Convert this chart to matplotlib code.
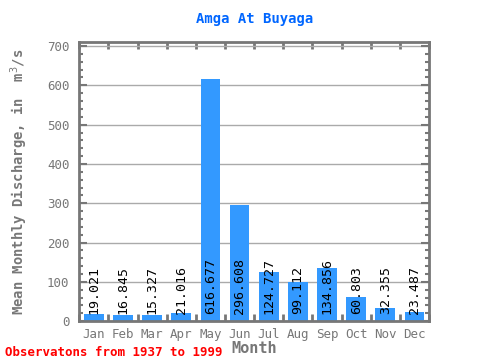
import numpy as np
import matplotlib.pyplot as plt
from matplotlib.ticker import MultipleLocator, FixedLocator

months = ['Jan', 'Feb', 'Mar', 'Apr', 'May', 'Jun', 'Jul', 'Aug', 'Sep', 'Oct', 'Nov', 'Dec']
flow = [19.021, 16.845, 15.327, 21.016, 616.677, 296.608, 124.727, 99.112, 134.856, 60.803, 32.355, 23.487]
labels = ['19.021', '16.845', '15.327', '21.016', '616.677', '296.608', '124.727', '99.112',
          '134.856', '60.803', '32.355', '23.487']

plt.rcParams['font.family'] = ['DejaVu Sans Mono']
grey = '#777777'

fig = plt.figure(figsize=(4.8, 3.6), dpi=100)
ax = fig.add_axes([0.165, 0.108, 0.729, 0.775])

x = np.arange(len(months))
ax.bar(x, flow, width=0.68, color='#3399ff', zorder=2)
for xi, v, lab in zip(x, flow, labels):
    ax.text(xi, 18, lab, rotation=90, ha='center', va='bottom', fontsize=9.5, color='black', zorder=3)

ax.set_xlim(-0.5, 11.5)
ax.set_ylim(0, 710)
ax.yaxis.set_major_locator(MultipleLocator(100))
ax.yaxis.set_minor_locator(MultipleLocator(20))
ax.grid(axis='y', color='#aaaaaa', linewidth=1, zorder=1)
ax.set_xticks(x)
ax.set_xticklabels(months)
ax.xaxis.set_minor_locator(FixedLocator(np.arange(-0.5, 12, 1)))
ax.tick_params(axis='x', which='major', length=0, labelsize=9, colors=grey, pad=5)
ax.tick_params(axis='x', which='minor', length=5, width=2, direction='in', top=True, color=grey)
ax.tick_params(axis='y', which='major', length=6, width=1.5, direction='in', right=True, labelsize=9, colors=grey, pad=7)
ax.tick_params(axis='y', which='minor', length=3, width=1.5, direction='in', right=True, color=grey)
for s in ax.spines.values():
    s.set_color(grey)
    s.set_linewidth(2)

ax.set_title('Amga At Buyaga', color='#0066ff', fontsize=10, fontweight='bold', pad=14)
ax.set_xlabel('Month', color=grey, fontsize=11, fontweight='bold', labelpad=0)
ax.set_ylabel('Mean Monthly Discharge, in  m$^{3}$/s', color=grey, fontsize=10, fontweight='bold', labelpad=12)
fig.text(0.01, 0.012, 'Observatons from 1937 to 1999', color='red', fontsize=9, fontweight='bold')

fig.savefig('out.png', dpi=100)
